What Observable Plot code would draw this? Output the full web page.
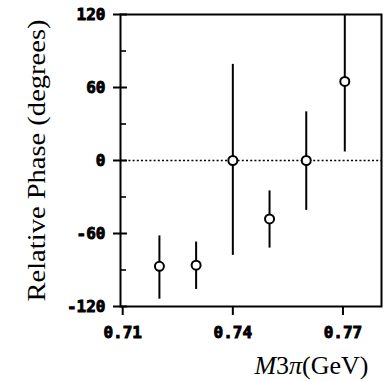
<!DOCTYPE html>
<html>
<head>
<meta charset="utf-8">
<script src="https://cdn.jsdelivr.net/npm/d3@7"></script>
<script src="https://cdn.jsdelivr.net/npm/@observablehq/plot@0.6"></script>
<style>
  html, body { margin: 0; padding: 0; background: white; }
  #chart svg { display: block; }
</style>
</head>
<body>
<div id="chart"></div>
<script>
const masses = [0.72, 0.73, 0.74, 0.75, 0.76, 0.7705];
const phase = [-87, -86, 0, -48, 0, 65];
const errLow = [-114, -106, -78, -72, -41, 7];
const errHigh = [-62, -67, 79, -25, 40, 120];
const xTicks = [0.71, 0.74, 0.77];
const yTicks = [-120, -60, 0, 60, 120];
const yMinorTicks = [-90, -30, 30, 90];
const xLabel = "M3π(GeV)";
const yLabel = "Relative Phase (degrees)";

const data = masses.map((m, i) => ({m, phase: phase[i], lo: errLow[i], hi: errHigh[i]}));

const tickFont = {fontFamily: "'DejaVu Sans Mono', monospace", fontSize: 16, fontWeight: "bold"};
const serif = "'Liberation Serif', 'DejaVu Serif', serif";

const chart = Plot.plot({
  width: 384,
  height: 381,
  marginLeft: 120,
  marginRight: 3,
  marginTop: 14,
  marginBottom: 75,
  style: {background: "white", color: "black", overflow: "visible"},
  x: {domain: [0.7094, 0.7805], label: null},
  y: {domain: [-120, 120], label: null},
  marks: [
    Plot.ruleY([0], {stroke: "black", strokeWidth: 1.6, strokeDasharray: "2,2.2"}),
    Plot.ruleX(data, {x: "m", y1: "lo", y2: "hi", stroke: "black", strokeWidth: 2}),
    Plot.dot(data, {x: "m", y: "phase", r: 4.5, fill: "white", stroke: "black", strokeWidth: 2}),
    Plot.frame({stroke: "black", strokeWidth: 2}),
    Plot.axisY(yTicks, {anchor: "left", tickSize: 7, tickPadding: 8, tickFormat: d => String(d), strokeWidth: 2, label: null, ...tickFont}),
    Plot.axisY(yTicks, {anchor: "left", tickSize: 7, dx: 7, tickFormat: () => "", strokeWidth: 2, label: null}),
    Plot.axisY(yMinorTicks, {anchor: "left", tickSize: 6, dx: 6, tickFormat: () => "", strokeWidth: 1.6, label: null}),
    Plot.axisX(xTicks, {anchor: "bottom", tickSize: 9, tickPadding: 11, tickFormat: d3.format(".2f"), strokeWidth: 2, label: null, ...tickFont}),
    Plot.text([xLabel], {frameAnchor: "bottom-right", text: d => d, textAnchor: "end", lineAnchor: "middle", dx: -13, dy: 59, fontFamily: serif, fontSize: 26, fill: "black"}),
    Plot.text([yLabel], {frameAnchor: "left", text: d => d, rotate: -90, textAnchor: "middle", lineAnchor: "middle", dx: -84, fontFamily: serif, fontSize: 26, fill: "black"})
  ]
});

document.getElementById("chart").appendChild(chart);

// Style the math part of the x label (italic M and π) and fit label widths
d3.select(chart).selectAll("text").each(function() {
  const t = d3.select(this);
  const s = t.text();
  if (s === xLabel) {
    t.text(null);
    t.style("font-size", "26px");
    t.append("tspan").attr("font-style", "italic").text("M");
    t.append("tspan").text("3");
    t.append("tspan").attr("font-style", "italic").text("π");
    t.append("tspan").text("(GeV)");
  } else if (s === yLabel) {
    t.attr("textLength", 282).attr("lengthAdjust", "spacingAndGlyphs");
  }
});
// Heavy typewriter-like tick numerals
d3.select(chart).selectAll('g[aria-label$="tick label"]')
  .attr("font-weight", "bold")
  .attr("font-size", 16)
  .attr("stroke", "black")
  .attr("stroke-width", 0.9)
  .attr("fill", "black");
</script>
</body>
</html>
